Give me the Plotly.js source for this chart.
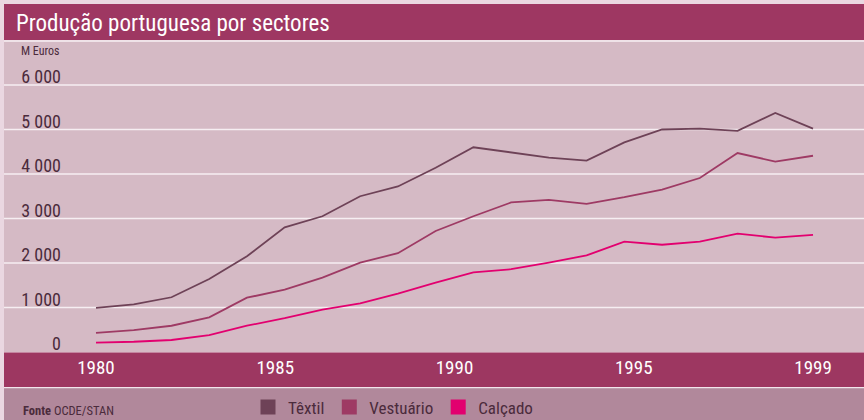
<!DOCTYPE html>
<html>
<head>
<meta charset="utf-8">
<script src="https://cdn.plot.ly/plotly-3.0.1.min.js"></script>
<style>html,body{margin:0;padding:0;background:#ead7e1;}#chart{width:864px;height:420px;}</style>
</head>
<body>
<div id="chart"></div>
<script>
// ---- data ----
const years = [1980, 1981, 1982, 1983, 1984, 1985, 1986, 1987, 1988, 1989,
               1990, 1991, 1992, 1993, 1994, 1995, 1996, 1997, 1998, 1999];
const textil    = [990, 1070, 1230, 1640, 2150, 2800, 3050, 3500, 3720, 4140,
                   4600, 4490, 4370, 4300, 4710, 5000, 5020, 4970, 5370, 5020];
const vestuario = [430, 490, 590, 780, 1220, 1400, 1670, 2010, 2220, 2720,
                   3050, 3360, 3420, 3330, 3480, 3650, 3910, 4470, 4280, 4410];
const calcado   = [210, 230, 270, 380, 590, 760, 950, 1090, 1310, 1560,
                   1790, 1860, 2010, 2170, 2480, 2410, 2480, 2660, 2570, 2630];
const seriesNames = ['Têxtil', 'Vestuário', 'Calçado'];
const xTickLabels = ['1980', '1985', '1990', '1995', '1999'];
const yTickValues = [0, 1000, 2000, 3000, 4000, 5000, 6000];
const yTickLabels = ['0', '1 000', '2 000', '3 000', '4 000', '5 000', '6 000'];
const titleText = 'Produção portuguesa por sectores';
const unitText = 'M Euros';
const sourceText = '<b>Fonte</b> OCDE/STAN';

// ---- style / layout helpers ----
const FONT = 'Roboto Condensed, Liberation Sans Narrow, sans-serif';
const colors = ['#6e4257', '#9e3a64', '#e2006f'];
const W = 864, H = 420, ML = 62, MR = 0, MT = 42, MB = 68;
const PW = W - ML - MR, PH = H - MT - MB;
const px = v => (v - ML) / PW;
const py = v => (H - MB - v) / PH;

// evenly spread x tick labels across the data span
const x0 = years[0], x1 = years[years.length - 1];
const xTickVals = xTickLabels.map((_, i) => x0 + i * (x1 - x0) / (xTickLabels.length - 1));

const allSeries = [textil, vestuario, calcado];
const traces = [];
allSeries.forEach((s, i) => {
  traces.push({
    x: years, y: s, type: 'scatter', mode: 'lines', name: seriesNames[i],
    line: {color: colors[i], width: 1.8}, showlegend: false, hoverinfo: 'x+y'
  });
});
seriesNames.forEach((n, i) => {
  traces.push({
    x: [null], y: [null], type: 'scatter', mode: 'markers', name: n,
    marker: {symbol: 'square', size: 15, color: colors[i]}, showlegend: true
  });
});

function rect(xa, ya, xb, yb, color) {
  return {type: 'rect', xref: 'paper', yref: 'paper', x0: px(xa), x1: px(xb), y0: py(yb), y1: py(ya),
          fillcolor: color, line: {width: 0}, layer: 'below'};
}
const shapes = [
  rect(4, 4, 864, 40, '#9e3762'),
  rect(4, 40, 864, 42, '#efe2e8'),
  rect(4, 42, 864, 352, '#d5bac5'),
  rect(4, 352.5, 864, 387, '#9d3761'),
  rect(4, 387, 864, 388.3, '#f2e6ec'),
  rect(4, 388.3, 864, 420, '#b1889b')
];
yTickValues.filter(v => v > 0).forEach(v => {
  shapes.push({type: 'line', xref: 'paper', yref: 'y', x0: px(4), x1: 1, y0: v, y1: v,
               line: {color: '#f6eef2', width: 1.6}, layer: 'below'});
});

const layout = {
  width: W, height: H,
  margin: {l: ML, r: MR, t: MT, b: MB, pad: 0},
  paper_bgcolor: '#ead7e1',
  plot_bgcolor: '#d5bac5',
  font: {family: FONT, color: '#4b2b3c'},
  title: {text: titleText, x: 16 / W, xanchor: 'left', xref: 'container',
          y: 1 - 23 / H, yanchor: 'middle', yref: 'container',
          font: {family: FONT, size: 23, color: '#ffffff'}},
  xaxis: {range: [1979.099, 2000.351], tickmode: 'array', tickvals: xTickVals, ticktext: xTickLabels,
          showgrid: false, zeroline: false, showline: false, ticks: '',
          tickfont: {family: FONT, size: 19, color: '#ffffff'}, ticklabelstandoff: 2, fixedrange: true},
  yaxis: {range: [0, 6966], tickmode: 'array', tickvals: yTickValues, ticktext: yTickLabels,
          showgrid: false, zeroline: false, showline: false, ticks: '',
          tickfont: {family: FONT, size: 18, color: '#4b2b3c'}, ticklabelshift: -8, fixedrange: true},
  showlegend: true,
  legend: {orientation: 'h', xref: 'container', yref: 'container', x: 248 / W, xanchor: 'left',
           y: (H - 407.5) / H, yanchor: 'middle', bgcolor: 'rgba(0,0,0,0)', borderwidth: 0,
           font: {family: FONT, size: 17, color: '#4b2b3c'}, itemclick: false, itemdoubleclick: false},
  shapes: shapes,
  annotations: [
    {text: unitText, xref: 'paper', yref: 'paper', x: px(19), y: py(51), xanchor: 'left', yanchor: 'middle',
     showarrow: false, font: {family: FONT, size: 12, color: '#4b2b3c'}},
    {text: sourceText, xref: 'paper', yref: 'paper', x: px(21), y: py(410.5), xanchor: 'left', yanchor: 'middle',
     showarrow: false, font: {family: FONT, size: 12.5, color: '#4b2b3c'}}
  ]
};

Plotly.newPlot('chart', traces, layout, {displayModeBar: false, staticPlot: false});
</script>
</body>
</html>
